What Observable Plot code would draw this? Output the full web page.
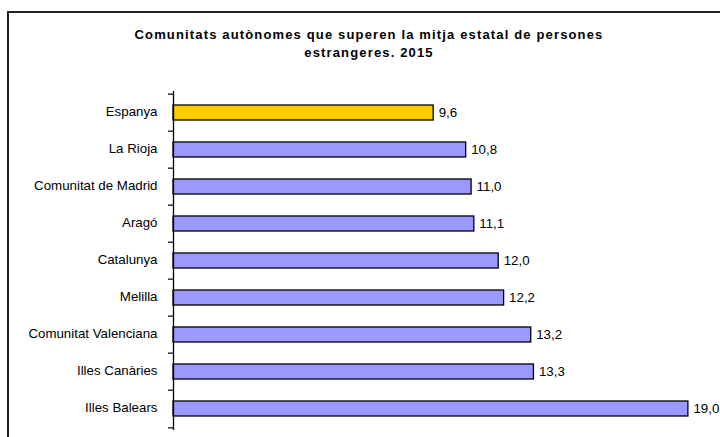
<!DOCTYPE html>
<html>
<head>
<meta charset="utf-8">
<script src="https://cdn.jsdelivr.net/npm/d3@7"></script>
<script src="https://cdn.jsdelivr.net/npm/@observablehq/plot@0.6"></script>
<style>
  html, body { margin: 0; padding: 0; background: #fff; overflow: hidden; }
  #page { position: relative; width: 720px; height: 437px; overflow: hidden; font-family: "Liberation Sans", Arial, sans-serif; }
  #frame { position: absolute; left: 7px; top: 11px; width: 800px; height: 600px; border: 2px solid #222; box-sizing: border-box; }
  #title { position: absolute; left: 0; top: 26px; width: 738px; text-align: center; font-weight: bold; font-size: 13px; line-height: 18px; letter-spacing: 1.15px; color: #000; }
  #chart { position: absolute; left: 0; top: 0; line-height: 0; }
  #chart svg { display: block; }
</style>
</head>
<body>
<div id="page">
  <div id="frame"></div>
  <div id="chart"></div>
  <div id="title">Comunitats autònomes que superen la mitja estatal de persones<br>estrangeres. 2015</div>
</div>
<script>
const categories = ["Espanya", "La Rioja", "Comunitat de Madrid", "Aragó", "Catalunya", "Melilla", "Comunitat Valenciana", "Illes Canàries", "Illes Balears"];
const values = [9.6, 10.8, 11.0, 11.1, 12.0, 12.2, 13.2, 13.3, 19.0];
const highlight = "Espanya";
const xDomain = [0, 20];

const data = categories.map((name, i) => ({name, value: values[i]}));
const fmt = v => d3.format(".1f")(v).replace(".", ",");

const W = 720, H = 437, mTop = 91, mBottom = 7;
const step = (H - mTop - mBottom) / categories.length;

const chart = Plot.plot({
  width: W,
  height: H,
  marginTop: mTop,
  marginBottom: mBottom,
  marginLeft: 173,
  marginRight: 5,
  style: {fontFamily: "'Liberation Sans', Arial, sans-serif", fontSize: "13.3px", color: "#000", background: "transparent", overflow: "visible"},
  x: {domain: xDomain, axis: null},
  y: {domain: categories, paddingInner: 0.6, paddingOuter: 0.3, label: null},
  marks: [
    Plot.barX(data, {
      x: "value",
      y: "name",
      fill: d => d.name === highlight ? "#FFCC00" : "#9999FF",
      stroke: "#000",
      strokeWidth: 1.3
    }),
    Plot.ruleX([0], {stroke: "#000", strokeWidth: 1.3}),
    Plot.axisY({tickSize: 0, tickPadding: 16, fontSize: 13.3, label: null, dy: -1}),
    Plot.axisY({ticks: categories, tickSize: 5, tickFormat: () => "", dy: -step / 2, label: null, strokeWidth: 1.2}),
    Plot.axisY({ticks: categories.slice(-1), tickSize: 5, tickFormat: () => "", dy: step / 2, label: null, strokeWidth: 1.2}),
    Plot.text(data, {
      x: "value",
      y: "name",
      text: d => fmt(d.value),
      dx: 5,
      textAnchor: "start",
      fill: "#000",
      fontSize: 13.3
    })
  ]
});
document.getElementById("chart").appendChild(chart);
</script>
</body>
</html>
